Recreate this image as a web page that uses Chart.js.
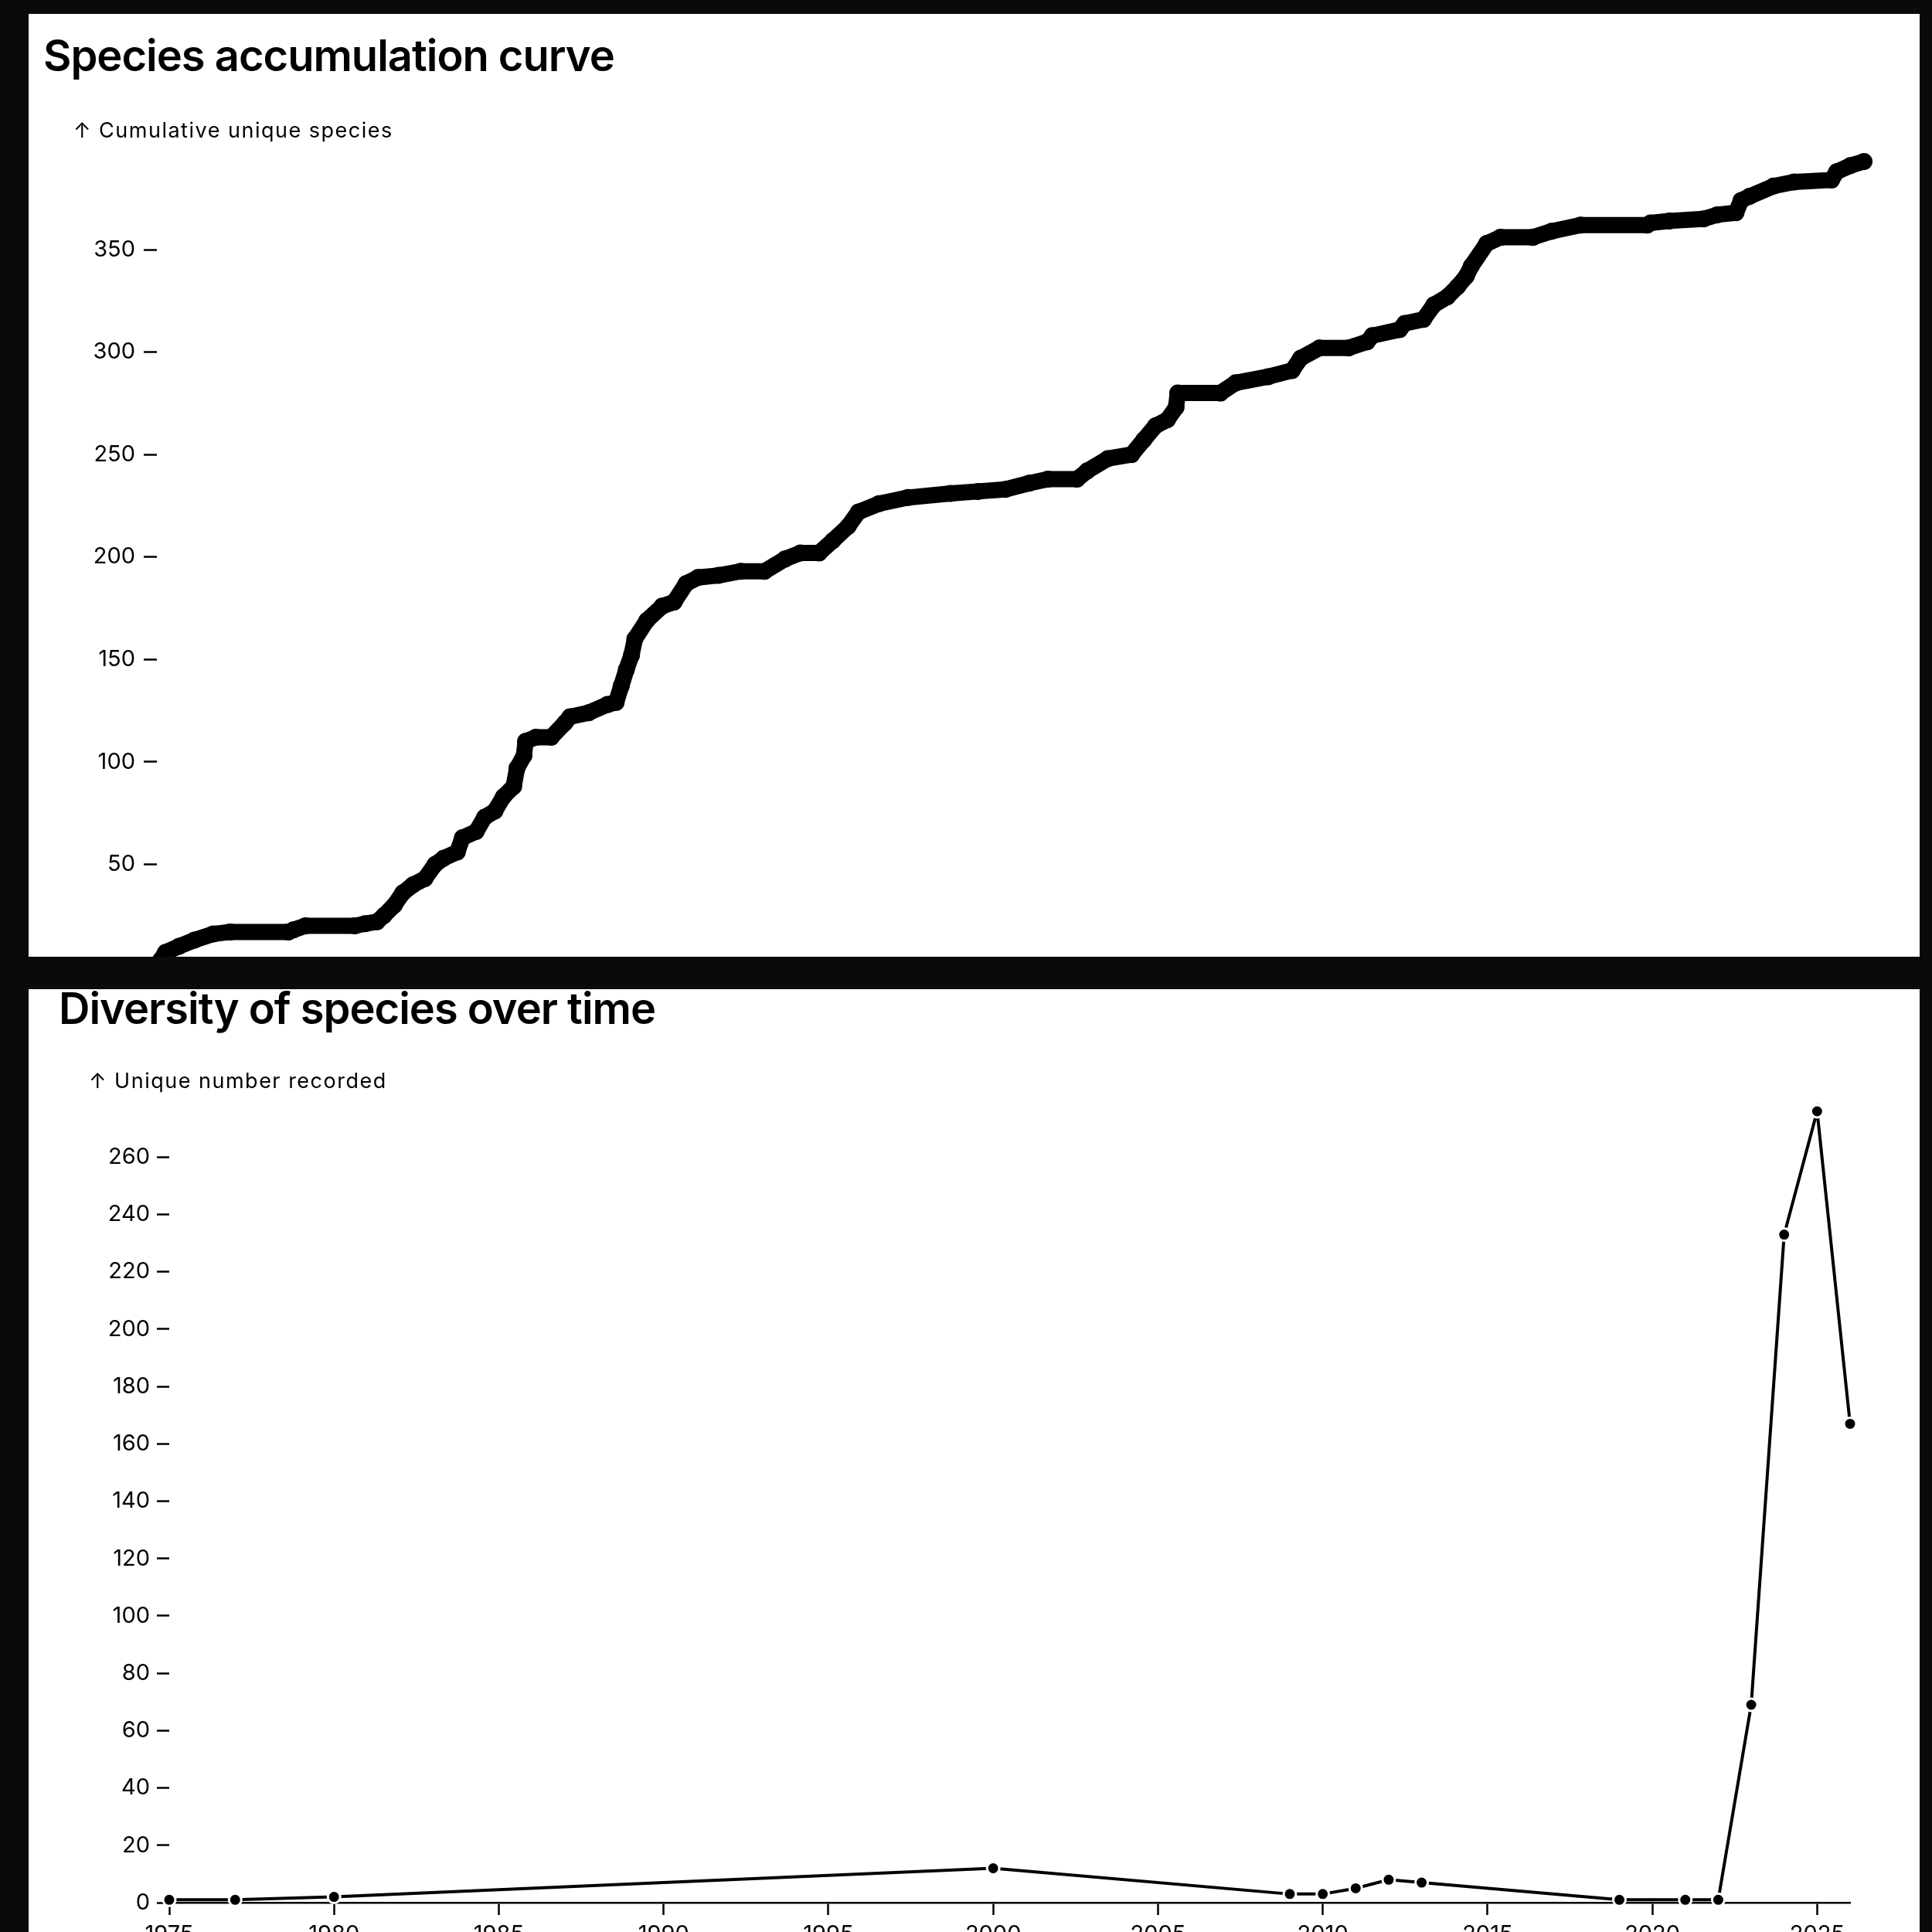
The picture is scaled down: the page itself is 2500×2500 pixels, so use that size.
<!DOCTYPE html>
<html>
<head>
<meta charset="utf-8">
<script src="https://cdn.jsdelivr.net/npm/chart.js@4.4.1/dist/chart.umd.min.js"></script>
<style>
  html, body { margin: 0; padding: 0; background: #0a0a0a; width: 2500px; height: 2500px; overflow: hidden; }
  .panel { position: absolute; left: 37px; width: 2447px; background: #fff; overflow: hidden; }
  #p1 { top: 18px; height: 1220px; }
  #p2 { top: 1280px; height: 1220px; }
  .title { position: absolute; font-family: Inter, "Noto Sans", sans-serif; font-weight: 600; font-size: 56px; line-height: 1; color: #000; white-space: nowrap; letter-spacing: -1px; }
  .ylab { position: absolute; font-family: Inter, "Noto Sans", sans-serif; font-weight: 400; font-size: 27px; line-height: 1; color: #000; white-space: nowrap; letter-spacing: 1.5px; }
  canvas { position: absolute; left: 0; top: 0; }
</style>
</head>
<body>
<div class="panel" id="p1">
  <canvas id="c1" width="2447" height="1300" style="width:2447px;height:1300px"></canvas>
  <div class="title" id="t1" style="left:19px;top:26px">Species accumulation curve</div>
  <div class="ylab" style="left:58px;top:137px">↑ Cumulative unique species</div>
</div>
<div class="panel" id="p2">
  <canvas id="c2" width="2447" height="1300" style="width:2447px;height:1300px"></canvas>
  <div class="title" id="t2" style="left:39px;top:-3px">Diversity of species over time</div>
  <div class="ylab" style="left:78px;top:105px">↑ Unique number recorded</div>
</div>
<script>
// ---- Species accumulation curve ----
const observationIndex = [0, 2, 5, 13, 22, 33, 43, 77, 80, 87, 116, 122, 129, 133, 139, 144, 150, 157, 163, 168, 176, 179, 187, 192, 198, 203, 209, 211, 215, 216, 222, 231, 239, 242, 253, 264, 269, 272, 275, 278, 280, 287, 296, 303, 310, 317, 329, 342, 356, 368, 377, 388, 396, 405, 411, 423, 440, 465, 481, 497, 511, 522, 539, 545, 557, 571, 578, 585, 592, 597, 598, 623, 632, 651, 665, 670, 681, 698, 709, 712, 728, 731, 742, 748, 756, 762, 767, 770, 779, 787, 806, 817, 834, 873, 875, 886, 906, 914, 925, 928, 933, 947, 959, 981, 984, 992, 1000];
const cumulativeSpecies = [1, 3, 7, 10, 13, 16, 17, 17, 18, 20, 20, 21, 22, 25, 30, 36, 40, 43, 50, 53, 56, 63, 66, 73, 76, 83, 88, 97, 103, 110, 112, 112, 119, 122, 124, 128, 129, 137, 145, 152, 160, 169, 176, 178, 187, 190, 191, 193, 193, 199, 202, 202, 208, 215, 222, 226, 229, 231, 232, 233, 236, 238, 238, 242, 248, 250, 257, 264, 267, 273, 280, 280, 285, 288, 291, 297, 302, 302, 305, 308, 311, 314, 316, 323, 327, 332, 337, 342, 353, 356, 356, 359, 362, 362, 363, 364, 365, 367, 368, 374, 376, 381, 383, 384, 388, 391, 393];
const accumulationTicks = [0, 50, 100, 150, 200, 250, 300, 350];

// ---- Diversity of species over time ----
const years = [1975, 1977, 1980, 2000, 2009, 2010, 2011, 2012, 2013, 2019, 2021, 2022, 2023, 2024, 2025, 2026];
const uniqueRecorded = [1, 1, 2, 12, 3, 3, 5, 8, 7, 1, 1, 1, 69, 233, 276, 167];
const yearTicks = [1975, 1980, 1985, 1990, 1995, 2000, 2005, 2010, 2015, 2020, 2025];
const diversityTicks = [0, 20, 40, 60, 80, 100, 120, 140, 160, 180, 200, 220, 240, 260];

const FONT = 'Inter, "Noto Sans", sans-serif';

new Chart(document.getElementById('c1'), {
  type: 'line',
  data: {
    datasets: [{
      data: observationIndex.map((x, i) => ({ x: x, y: cumulativeSpecies[i] })),
      borderColor: '#000',
      borderWidth: 21,
      borderJoinStyle: 'round',
      borderCapStyle: 'round',
      pointRadius: 9,
      pointBorderWidth: 4,
      pointBorderColor: '#000',
      pointBackgroundColor: 'rgba(255,255,255,0)',
      tension: 0,
      clip: false
    }]
  },
  options: {
    responsive: false, animation: false, devicePixelRatio: 1, events: [],
    layout: { autoPadding: false, padding: { left: 66, right: 72, top: 191, bottom: 67 } },
    plugins: { legend: { display: false }, tooltip: { enabled: false }, title: { display: false } },
    scales: {
      x: { type: 'linear', display: false, min: 0, max: 1000 },
      y: {
        type: 'linear', min: 0, max: 393,
        afterBuildTicks: s => { s.ticks = accumulationTicks.map(v => ({ value: v })); },
        afterFit: s => { s.width = 100; },
        grid: { drawOnChartArea: false, drawTicks: true, tickLength: 17, tickWidth: 2.5, tickColor: '#000' },
        border: { display: false },
        ticks: { color: '#000', font: { family: FONT, size: 29 }, padding: 11, callback: v => String(v) }
      }
    }
  }
});

new Chart(document.getElementById('c2'), {
  type: 'line',
  data: {
    datasets: [{
      data: years.map((x, i) => ({ x: x, y: uniqueRecorded[i] })),
      borderColor: '#000',
      borderWidth: 4,
      pointRadius: 8,
      pointBorderWidth: 3,
      pointBorderColor: '#fff',
      pointBackgroundColor: '#000',
      tension: 0,
      clip: false
    }]
  },
  options: {
    responsive: false, animation: false, devicePixelRatio: 1, events: [],
    layout: { autoPadding: false, padding: { left: 82, right: 90, top: 158, bottom: 38 } },
    plugins: { legend: { display: false }, tooltip: { enabled: false }, title: { display: false } },
    scales: {
      x: {
        type: 'linear', min: 1975, max: 2026,
        afterBuildTicks: s => { s.ticks = yearTicks.map(v => ({ value: v })); },
        afterFit: s => { s.height = 80; },
        grid: { drawOnChartArea: false, drawTicks: true, tickLength: 16, tickWidth: 2.5, tickColor: '#000' },
        border: { display: true, color: '#000', width: 2.6 },
        ticks: { color: '#000', font: { family: FONT, size: 29 }, padding: 8, maxRotation: 0, autoSkip: false, callback: v => String(v) }
      },
      y: {
        type: 'linear', min: 0, max: 276,
        afterBuildTicks: s => { s.ticks = diversityTicks.map(v => ({ value: v })); },
        afterFit: s => { s.width = 100; },
        grid: { drawOnChartArea: false, drawTicks: true, tickLength: 16, tickWidth: 2.5, tickColor: '#000' },
        border: { display: false },
        ticks: { color: '#000', font: { family: FONT, size: 29 }, padding: 9, callback: v => String(v) }
      }
    }
  }
});
</script>
</body>
</html>
